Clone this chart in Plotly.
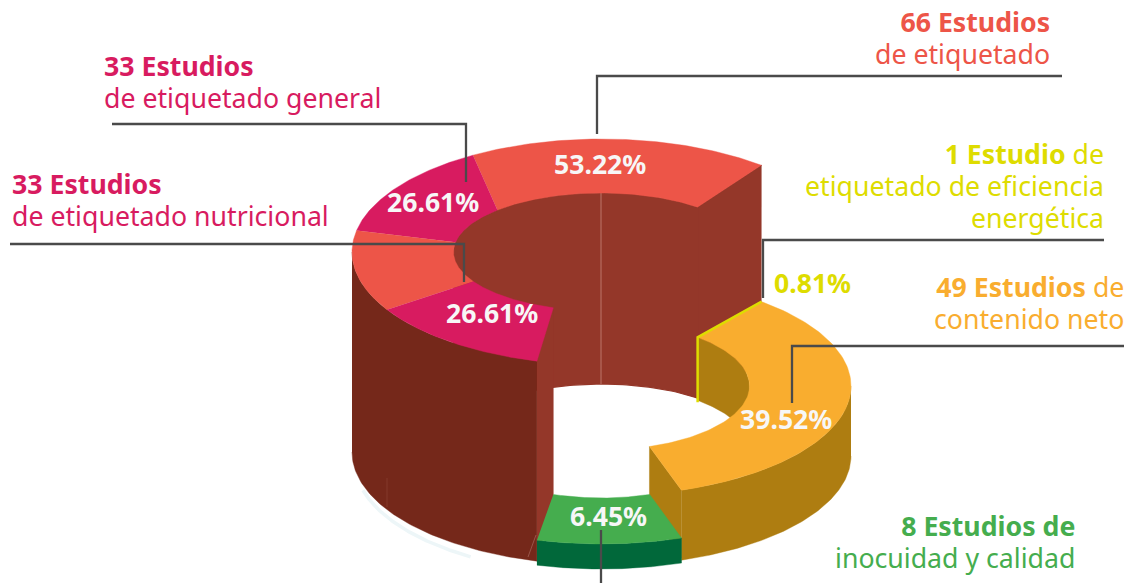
import numpy as np
import plotly.graph_objects as go

# ---------- data ----------
categories = ["etiquetado", "eficiencia energética", "contenido neto", "inocuidad y calidad"]
studies = [66, 1, 49, 8]
shares = [53.22, 0.81, 39.52, 6.45]
sub_categories = ["etiquetado general", "etiquetado nutricional"]
sub_studies = [33, 33]
sub_shares = [26.61, 26.61]

# sweep boundaries (degrees, counter-clockwise from 3 o'clock)
outer_bounds = [50.1, 121.0, 169.0, 210.7, 255.0]   # red, pink, red, pink
inner_bounds = [49.5, 134.7, 170.6, 210.0, 251.0]
orange_bounds = [(50.1, -71.3), (49.5, -71.1)]
green_bounds = [(255.0, 288.7), (251.0, 289.0)]

# ---------- styles ----------
RED, PINK, ORANGE, GREEN, YELLOW = "#ED5548", "#D81B60", "#F9AD2F", "#45AD4E", "#DEDC00"
RED_SIDE, RED_WALL = "#75281A", "#943729"
ORANGE_SIDE, GREEN_SIDE = "#AE7D11", "#01683A"
LINE = "#4A4A4A"
FONT = "Noto Sans"
CX, A_OUT, A_IN = 601.5, 249.5, 148.0


def pt(t, a, b, cy):
    t = np.radians(np.asarray(t, dtype=float))
    return CX + a * np.cos(t), cy - b * np.sin(t)


def arc(t0, t1, a, b, cy):
    return pt(np.linspace(t0, t1, 90), a, b, cy)


fig = go.Figure()


def poly(xs, ys, color, edge=0.4):
    fig.add_trace(go.Scatter(x=list(xs), y=list(ys), mode="lines", fill="toself", fillcolor=color,
                             line=dict(width=edge, color=color), hoverinfo="skip", showlegend=False))


def stroke(xs, ys, color, width=2):
    fig.add_trace(go.Scatter(x=list(xs), y=list(ys), mode="lines", line=dict(width=width, color=color),
                             hoverinfo="skip", showlegend=False))


def ring(o0, o1, i0, i1, cy, bo, bi, color):
    xo, yo = arc(o0, o1, A_OUT, bo, cy)
    xi, yi = arc(i1, i0, A_IN, bi, cy)
    poly(np.r_[xo, xi], np.r_[yo, yi], color)


def band(t0, t1, a, b, cy, h, color, edge=0.4):
    x, y = arc(t0, t1, a, b, cy)
    poly(np.r_[x, x[::-1]], np.r_[y, y[::-1] + h], color, edge)


def cap(to, ti, cy, bo, bi, ho, hi, color, edge=0.4):
    xo, yo = pt(to, A_OUT, bo, cy)
    xi, yi = pt(ti, A_IN, bi, cy)
    poly([xo, xi, xi, xo], [yo, yi, yi + hi, yo + ho], color, edge)


# levels
CY_R, BO_R, BI_R, H_R, HW_R = 252, 113, 59, 200, 191
CY_O, BO_O, BI_O, H_O, HW_O = 386, 110, 64, 70, 63
CY_G, BO_G, BI_G, H_G = 432, 112, 66, 25

# soft shadow below the body
xs, ys = arc(195, 238, 247, 113, 461)
stroke(xs, ys, "#EDF6F8", 3.5)

# raised (red) block
band(inner_bounds[0], 180, A_IN, BI_R, CY_R, HW_R, RED_WALL, 1.2)
cap(outer_bounds[0], inner_bounds[0], CY_R, BO_R, BI_R, 197, 191, RED_WALL, 1.2)
band(180, outer_bounds[-1], A_OUT, BO_R, CY_R, H_R, RED_SIDE)
cap(outer_bounds[-1], inner_bounds[-1], CY_R, BO_R, BI_R, 197, 197, RED_WALL)
x0, y0 = pt(90, A_IN, BI_R, CY_R)
stroke([x0 - 0.5, x0 - 0.5], [139, y0 + HW_R], "rgba(255,220,210,0.38)", 1)
stroke([387, 387], [478, 507], "rgba(255,220,210,0.10)", 1)
stroke([528, 536], [557, 535], "rgba(255,220,210,0.25)", 1)

top_colors = [RED, PINK, RED, PINK]
for k, c in enumerate(top_colors):
    ring(outer_bounds[k], outer_bounds[k + 1], inner_bounds[k], inner_bounds[k + 1], CY_R, BO_R, BI_R, c)

# orange block
band(orange_bounds[1][0], 0, A_IN, BI_O, CY_O, HW_O, ORANGE_SIDE)
band(0, orange_bounds[0][1], A_OUT, BO_O, CY_O, H_O, ORANGE_SIDE)
cap(orange_bounds[0][1], orange_bounds[1][1], CY_O, BO_O, BI_O, 68, 63, ORANGE_SIDE)
ring(orange_bounds[0][0], orange_bounds[0][1], orange_bounds[1][0], orange_bounds[1][1], CY_O, BO_O, BI_O, ORANGE)

# the thin yellow slice
xo, yo = pt(orange_bounds[0][0], A_OUT, BO_O, CY_O)
xi, yi = pt(orange_bounds[1][0], A_IN, BI_O, CY_O)
stroke([xo, xi, xi], [yo, yi, yi + HW_O + 2], YELLOW, 2.5)

# green block
band(green_bounds[0][0], green_bounds[0][1], A_OUT, BO_G, CY_G, H_G, GREEN_SIDE)
ring(green_bounds[0][0], green_bounds[0][1], green_bounds[1][0], green_bounds[1][1], CY_G, BO_G, BI_G, GREEN)

# leader lines
leaders = [
    ([597, 597, 1062], [134, 76, 76]),
    ([112, 466, 466], [124, 124, 182]),
    ([10, 464, 464], [244, 244, 282]),
    ([763, 763, 1104], [298, 240, 240]),
    ([792, 792, 1124], [403, 346, 346]),
    ([601, 601], [530, 583]),
]
for lx, ly in leaders:
    stroke(lx, ly, LINE, 2.3)

NUDGE = {"left": -2, "right": 2, "center": 0}


def note(text, x, y, color, anchor="left", size=26.6):
    fig.add_annotation(x=x + NUDGE[anchor], y=y - 1.5, text=text, xref="x", yref="y", showarrow=False,
                       xanchor=anchor, yanchor="middle", align=anchor,
                       font=dict(family=FONT, size=size, color=color))


def block(lines, x, y_first, color, anchor="left"):
    # base size sets the 32 px line pitch (1.3 em); the spans set the glyph size
    body = "<br>".join(f'<span style="font-size:26.7px">{ln}</span>' for ln in lines)
    note(body, x, y_first + 1 + (len(lines) - 1) * 16, color, anchor, size=24.6)


block([f"<b>{studies[0]} Estudios</b>", f"de {categories[0]}"], 1050, 22, RED, "right")
block([f"<b>{sub_studies[0]} Estudios</b>", f"de {sub_categories[0]}"], 104, 66, PINK)
block([f"<b>{sub_studies[1]} Estudios</b>", f"de {sub_categories[1]}"], 12, 184, PINK)
block([f"<b>{studies[1]} Estudio</b> de", "etiquetado de eficiencia", "energética"], 1104, 154, YELLOW, "right")
block([f"<b>{studies[2]} Estudios</b> de", categories[2]], 1124, 287, ORANGE, "right")
block([f"<b>{studies[3]} Estudios de</b>", categories[3]], 1075, 526, GREEN, "right")

WHITE = "#F7F7F7"
note(f"<b>{shares[0]:.2f}%</b>", 599.5, 165, WHITE, "center")
note(f"<b>{sub_shares[0]:.2f}%</b>", 433, 203, WHITE, "center")
note(f"<b>{sub_shares[1]:.2f}%</b>", 492, 314, WHITE, "center")
note(f"<b>{shares[1]:.2f}%</b>", 812, 284, YELLOW, "center")
note(f"<b>{shares[2]:.2f}%</b>", 786, 420, WHITE, "center")
note(f"<b>{shares[3]:.2f}%</b>", 608, 517, WHITE, "center")

fig.update_layout(
    width=1127, height=583, margin=dict(l=0, r=0, t=0, b=0), autosize=False,
    paper_bgcolor="white", plot_bgcolor="white", showlegend=False,
    xaxis=dict(range=[0, 1127], visible=False, fixedrange=True),
    yaxis=dict(range=[583, 0], visible=False, fixedrange=True),
)
fig.write_html("out.html", config={"displayModeBar": False},
               post_script="document.body.style.margin='0';document.body.style.overflow='hidden';")
